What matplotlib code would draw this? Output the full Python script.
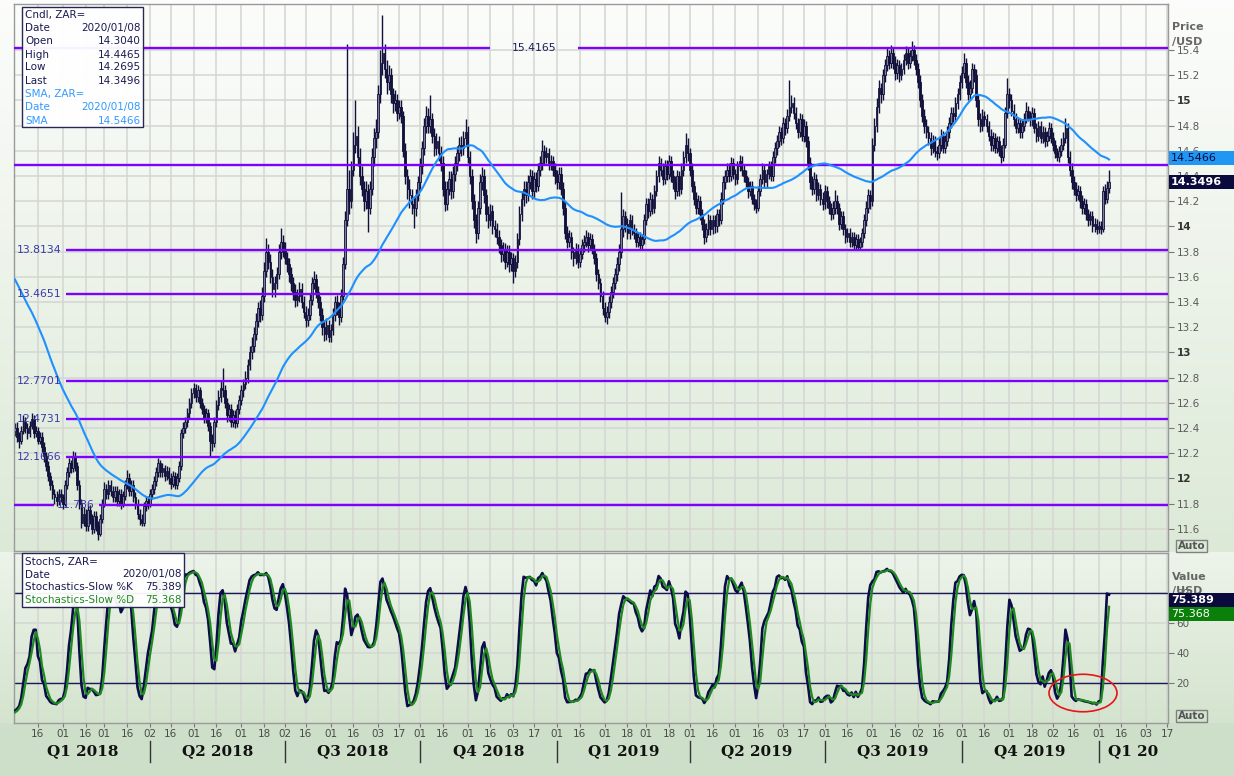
import numpy as np
import pandas as pd
import matplotlib
matplotlib.use("Agg")
import matplotlib.pyplot as plt
import matplotlib.transforms as mtransforms
from matplotlib.patches import Rectangle, Ellipse

W, H, DPI = 1234, 776, 100

# ------------------------------------------------------------------ data
start_date = "2018-01-01"          # first business day shown
first_open = 12.38                 # close of 2017-12-29

# closes of the 49 business days before the chart (feed the 50-day SMA)
prior_close = [13.90, 13.95, 14.05, 14.15,
               14.05, 14.00, 13.90, 14.00, 14.10,
               14.15, 14.20, 14.20, 14.25, 14.20,
               14.35, 14.40, 14.30, 14.10, 13.90,
               14.00, 13.90, 13.80, 13.75, 13.65,
               13.65, 13.65, 13.75, 13.60, 13.50,
               13.55, 13.60, 13.65, 13.65, 13.50,
               13.45, 13.55, 13.50, 13.35, 13.35,
               12.90, 12.85, 12.70, 12.65, 12.60,
               12.55, 12.50, 12.45, 12.40, 12.38]

close = [
    12.40, 12.33, 12.30, 12.38, 12.45, 12.40, 12.36, 12.42, 12.47, 12.36,   # 0
    12.38, 12.30, 12.33, 12.25, 12.18, 12.10, 12.02, 11.95, 11.88, 11.85,   # 10
    11.82, 11.88, 11.85, 11.80, 11.95, 12.05, 12.12, 12.08, 12.18, 12.10,   # 20
    11.95, 11.80, 11.65, 11.72, 11.62, 11.75, 11.68, 11.60, 11.70, 11.62,   # 30
    11.56, 11.68, 11.80, 11.92, 11.88, 11.95, 11.90, 11.85, 11.90, 11.82,   # 40
    11.88, 11.80, 11.86, 11.95, 12.00, 11.90, 11.95, 11.85, 11.80, 11.72,   # 50
    11.68, 11.65, 11.78, 11.82, 11.80, 11.88, 11.92, 11.98, 12.05, 12.12,   # 60
    12.05, 12.08, 12.02, 12.06, 12.00, 11.96, 12.02, 11.95, 12.00, 12.10,   # 70
    12.36, 12.40, 12.45, 12.52, 12.60, 12.68, 12.72, 12.65, 12.70, 12.60,   # 80
    12.55, 12.48, 12.52, 12.42, 12.30, 12.28, 12.45, 12.58, 12.65, 12.72,   # 90
    12.70, 12.60, 12.50, 12.55, 12.45, 12.50, 12.44, 12.55, 12.62, 12.70,   # 100
    12.75, 12.80, 12.90, 13.00, 13.05, 13.15, 13.25, 13.35, 13.30, 13.45,   # 110
    13.65, 13.80, 13.72, 13.60, 13.50, 13.55, 13.62, 13.80, 13.88, 13.82,   # 120
    13.75, 13.70, 13.62, 13.55, 13.48, 13.42, 13.45, 13.50, 13.40, 13.32,   # 130
    13.26, 13.30, 13.42, 13.55, 13.58, 13.48, 13.40, 13.30, 13.20, 13.15,   # 140
    13.22, 13.12, 13.18, 13.30, 13.40, 13.35, 13.28, 13.45, 13.70, 14.05,   # 150
    14.30, 14.20, 14.45, 14.65, 14.72, 14.55, 14.40, 14.30, 14.20, 14.28,   # 160
    14.15, 14.30, 14.55, 14.70, 14.75, 15.05, 15.30, 15.38, 15.25, 15.15,   # 170
    15.20, 15.05, 14.98, 15.00, 14.90, 14.95, 14.88, 14.60, 14.40, 14.30,   # 180
    14.25, 14.18, 14.15, 14.25, 14.35, 14.48, 14.62, 14.80, 14.88, 14.80,   # 190
    14.85, 14.72, 14.62, 14.68, 14.58, 14.50, 14.30, 14.18, 14.30, 14.38,   # 200
    14.28, 14.42, 14.50, 14.58, 14.65, 14.62, 14.70, 14.75, 14.55, 14.40,   # 210
    14.20, 14.05, 13.95, 14.15, 14.35, 14.40, 14.25, 14.10, 14.05, 14.12,   # 220
    14.00, 13.98, 13.92, 13.85, 13.78, 13.82, 13.72, 13.80, 13.70, 13.75,   # 230
    13.65, 13.72, 13.90, 14.10, 14.22, 14.30, 14.25, 14.35, 14.40, 14.28,   # 240
    14.38, 14.32, 14.45, 14.50, 14.60, 14.55, 14.58, 14.50, 14.52, 14.45,   # 250
    14.40, 14.35, 14.42, 14.30, 14.15, 13.95, 13.88, 13.92, 13.80, 13.75,   # 260
    13.82, 13.72, 13.78, 13.85, 13.88, 13.92, 13.85, 13.90, 13.82, 13.75,   # 270
    13.62, 13.55, 13.45, 13.35, 13.28, 13.32, 13.40, 13.48, 13.55, 13.62,   # 280
    13.70, 13.80, 13.98, 14.08, 14.02, 13.95, 14.05, 13.98, 13.95, 13.88,   # 290
    13.92, 13.85, 13.90, 14.05, 14.18, 14.12, 14.22, 14.15, 14.28, 14.40,   # 300
    14.50, 14.45, 14.38, 14.48, 14.42, 14.52, 14.40, 14.35, 14.28, 14.40,   # 310
    14.30, 14.45, 14.55, 14.65, 14.58, 14.45, 14.32, 14.22, 14.15, 14.20,   # 320
    14.10, 14.02, 13.92, 13.98, 14.05, 13.98, 14.05, 14.00, 14.10, 14.05,   # 330
    14.22, 14.35, 14.40, 14.45, 14.40, 14.50, 14.42, 14.38, 14.48, 14.52,   # 340
    14.45, 14.40, 14.35, 14.28, 14.32, 14.22, 14.18, 14.15, 14.28, 14.38,   # 350
    14.45, 14.35, 14.42, 14.48, 14.40, 14.55, 14.62, 14.68, 14.75, 14.70,   # 360
    14.82, 14.78, 14.88, 14.95, 14.98, 14.90, 14.82, 14.75, 14.85, 14.72,   # 370
    14.80, 14.68, 14.50, 14.35, 14.30, 14.38, 14.25, 14.30, 14.22, 14.18,   # 380
    14.28, 14.20, 14.15, 14.10, 14.15, 14.20, 14.15, 14.02, 14.08, 13.98,   # 390
    13.92, 13.95, 13.88, 13.92, 13.85, 13.90, 13.84, 13.88, 13.95, 14.05,   # 400
    14.15, 14.25, 14.20, 14.65, 14.80, 14.95, 15.10, 15.05, 15.20, 15.28,   # 410
    15.35, 15.30, 15.38, 15.30, 15.22, 15.28, 15.20, 15.25, 15.32, 15.38,   # 420
    15.30, 15.35, 15.40, 15.32, 15.25, 15.15, 15.00, 14.88, 14.80, 14.75,   # 430
    14.70, 14.62, 14.68, 14.60, 14.58, 14.65, 14.72, 14.62, 14.68, 14.75,   # 440
    14.82, 14.90, 14.88, 14.98, 15.05, 15.15, 15.22, 15.30, 15.15, 15.05,   # 450
    15.10, 15.25, 15.20, 15.00, 14.85, 14.80, 14.88, 14.85, 14.80, 14.72,   # 460
    14.65, 14.70, 14.62, 14.68, 14.60, 14.55, 14.65, 14.90, 15.05, 15.00,   # 470
    14.92, 14.85, 14.78, 14.82, 14.75, 14.80, 14.85, 14.92, 14.88, 14.85,   # 480
    14.90, 14.78, 14.72, 14.80, 14.70, 14.75, 14.68, 14.72, 14.78, 14.70,   # 490
    14.65, 14.58, 14.55, 14.60, 14.65, 14.70, 14.78, 14.55, 14.45, 14.35,   # 500
    14.30, 14.25, 14.28, 14.20, 14.15, 14.18, 14.10, 14.05, 14.08, 14.00,   # 510
    14.02, 13.98, 14.00, 13.98, 14.28, 14.22, 14.304, 14.3496]               # 520

high = [
    12.44, 12.45, 12.37, 12.42, 12.50, 12.49, 12.44, 12.46, 12.52, 12.50,
    12.42, 12.41, 12.37, 12.37, 12.29, 12.21, 12.14, 12.05, 11.99, 11.92,
    11.90, 11.92, 11.92, 11.88, 11.99, 12.09, 12.16, 12.15, 12.22, 12.21,
    12.13, 11.99, 11.84, 11.77, 11.76, 11.79, 11.79, 11.72, 11.74, 11.74,
    11.66, 11.72, 11.84, 11.97, 11.96, 11.99, 11.99, 11.94, 11.94, 11.94,
    11.92, 11.92, 11.90, 11.99, 12.07, 12.04, 11.99, 11.99, 11.89, 11.84,
    11.76, 11.72, 11.81, 11.86, 11.86, 11.92, 11.96, 12.02, 12.09, 12.16,
    12.15, 12.12, 12.11, 12.10, 12.09, 12.04, 12.06, 12.05, 12.04, 12.14,
    12.39, 12.45, 12.49, 12.56, 12.64, 12.72, 12.76, 12.75, 12.74, 12.73,
    12.64, 12.58, 12.56, 12.55, 12.45, 12.35, 12.49, 12.62, 12.70, 12.78,
    12.88, 12.74, 12.64, 12.59, 12.59, 12.54, 12.54, 12.59, 12.66, 12.74,
    12.79, 12.85, 12.95, 13.05, 13.12, 13.20, 13.31, 13.40, 13.42, 13.52,
    13.72, 13.91, 13.86, 13.78, 13.66, 13.61, 13.68, 13.86, 13.99, 13.93,
    13.88, 13.80, 13.75, 13.68, 13.60, 13.54, 13.50, 13.56, 13.55, 13.45,
    13.37, 13.35, 13.47, 13.60, 13.65, 13.62, 13.53, 13.45, 13.35, 13.25,
    13.27, 13.26, 13.23, 13.35, 13.45, 13.46, 13.40, 13.50, 13.76, 14.12,
    15.45, 14.45, 14.52, 14.75, 15.00, 14.80, 14.62, 14.48, 14.36, 14.36,
    14.34, 14.36, 14.62, 14.78, 14.85, 15.12, 15.40, 15.68, 15.45, 15.32,
    15.28, 15.26, 15.10, 15.08, 15.05, 15.00, 15.00, 14.92, 14.66, 14.46,
    14.38, 14.30, 14.24, 14.30, 14.40, 14.54, 14.68, 14.86, 14.96, 14.94,
    15.04, 14.90, 14.78, 14.74, 14.72, 14.64, 14.56, 14.36, 14.36, 14.44,
    14.44, 14.48, 14.56, 14.64, 14.71, 14.72, 14.76, 14.85, 14.80, 14.60,
    14.46, 14.26, 14.10, 14.20, 14.42, 14.47, 14.46, 14.30, 14.16, 14.18,
    14.17, 14.05, 14.03, 13.97, 13.90, 13.88, 13.87, 13.85, 13.85, 13.80,
    13.79, 13.77, 13.95, 14.16, 14.28, 14.36, 14.36, 14.41, 14.46, 14.45,
    14.43, 14.43, 14.50, 14.56, 14.69, 14.65, 14.63, 14.62, 14.57, 14.56,
    14.50, 14.45, 14.47, 14.47, 14.35, 14.20, 14.00, 13.97, 13.96, 13.84,
    13.87, 13.86, 13.83, 13.90, 13.93, 13.97, 13.96, 13.95, 13.94, 13.86,
    13.79, 13.66, 13.59, 13.49, 13.40, 13.37, 13.45, 13.53, 13.60, 13.67,
    13.76, 13.86, 14.27, 14.14, 14.12, 14.07, 14.10, 14.09, 14.02, 13.99,
    13.96, 13.96, 13.94, 14.10, 14.23, 14.23, 14.27, 14.26, 14.33, 14.45,
    14.56, 14.54, 14.50, 14.53, 14.53, 14.57, 14.56, 14.45, 14.40, 14.45,
    14.44, 14.50, 14.60, 14.74, 14.70, 14.62, 14.50, 14.36, 14.27, 14.25,
    14.24, 14.14, 14.06, 14.03, 14.10, 14.09, 14.09, 14.09, 14.14, 14.14,
    14.27, 14.40, 14.45, 14.50, 14.50, 14.55, 14.54, 14.46, 14.52, 14.57,
    14.56, 14.49, 14.45, 14.39, 14.36, 14.36, 14.26, 14.22, 14.32, 14.42,
    14.50, 14.49, 14.46, 14.52, 14.52, 14.60, 14.67, 14.73, 14.80, 14.79,
    14.87, 14.86, 14.93, 15.16, 15.04, 15.03, 14.95, 14.86, 14.90, 14.89,
    14.85, 14.84, 14.72, 14.55, 14.40, 14.43, 14.42, 14.35, 14.34, 14.27,
    14.33, 14.32, 14.24, 14.19, 14.20, 14.29, 14.25, 14.19, 14.12, 14.12,
    14.02, 13.99, 13.99, 13.96, 13.96, 13.94, 13.94, 13.92, 13.99, 14.10,
    14.20, 14.30, 14.29, 14.70, 14.86, 15.02, 15.16, 15.14, 15.25, 15.33,
    15.42, 15.40, 15.44, 15.42, 15.35, 15.33, 15.32, 15.30, 15.37, 15.43,
    15.42, 15.40, 15.47, 15.44, 15.37, 15.30, 15.20, 15.05, 14.93, 14.85,
    14.80, 14.75, 14.73, 14.72, 14.64, 14.70, 14.77, 14.76, 14.73, 14.80,
    14.87, 14.95, 14.95, 15.03, 15.10, 15.20, 15.27, 15.38, 15.34, 15.20,
    15.16, 15.30, 15.29, 15.25, 15.05, 14.90, 14.93, 14.92, 14.89, 14.84,
    14.77, 14.75, 14.74, 14.72, 14.72, 14.65, 14.70, 14.95, 15.18, 15.10,
    15.05, 14.97, 14.90, 14.87, 14.86, 14.85, 14.90, 14.99, 14.96, 14.92,
    14.95, 14.94, 14.82, 14.84, 14.84, 14.80, 14.79, 14.76, 14.83, 14.82,
    14.75, 14.69, 14.62, 14.64, 14.70, 14.75, 14.86, 14.82, 14.60, 14.50,
    14.40, 14.35, 14.33, 14.32, 14.25, 14.23, 14.22, 14.14, 14.12, 14.12,
    14.07, 14.06, 14.04, 14.04, 14.32, 14.34, 14.36, 14.4465]

low = [
    12.34, 12.29, 12.24, 12.27, 12.35, 12.36, 12.31, 12.33, 12.39, 12.32,
    12.33, 12.27, 12.27, 12.21, 12.13, 12.06, 11.98, 11.91, 11.84, 11.80,
    11.78, 11.79, 11.81, 11.76, 11.78, 11.92, 12.01, 12.04, 12.05, 12.06,
    11.91, 11.76, 11.61, 11.62, 11.58, 11.58, 11.64, 11.56, 11.57, 11.58,
    11.51, 11.54, 11.65, 11.77, 11.84, 11.84, 11.86, 11.81, 11.81, 11.78,
    11.78, 11.76, 11.77, 11.83, 11.92, 11.86, 11.86, 11.81, 11.76, 11.68,
    11.63, 11.62, 11.62, 11.74, 11.76, 11.77, 11.84, 11.88, 11.94, 12.01,
    12.01, 12.01, 11.98, 11.99, 11.96, 11.92, 11.93, 11.92, 11.92, 11.97,
    12.07, 12.32, 12.36, 12.41, 12.48, 12.56, 12.64, 12.61, 12.61, 12.56,
    12.51, 12.44, 12.44, 12.38, 12.17, 12.22, 12.25, 12.41, 12.54, 12.61,
    12.65, 12.56, 12.45, 12.46, 12.41, 12.41, 12.40, 12.41, 12.51, 12.58,
    12.65, 12.71, 12.76, 12.86, 12.95, 13.00, 13.10, 13.20, 13.24, 13.26,
    13.40, 13.60, 13.66, 13.55, 13.44, 13.44, 13.50, 13.58, 13.74, 13.76,
    13.70, 13.64, 13.56, 13.49, 13.42, 13.36, 13.37, 13.40, 13.35, 13.27,
    13.20, 13.21, 13.26, 13.38, 13.50, 13.43, 13.35, 13.25, 13.14, 13.09,
    13.10, 13.08, 13.08, 13.14, 13.25, 13.30, 13.22, 13.24, 13.42, 13.66,
    14.00, 14.10, 14.15, 14.40, 14.58, 14.48, 14.33, 14.24, 14.12, 14.14,
    13.96, 14.10, 14.25, 14.48, 14.62, 14.70, 14.98, 15.20, 15.18, 15.05,
    15.08, 14.98, 14.90, 14.92, 14.84, 14.85, 14.82, 14.55, 14.34, 14.22,
    14.15, 14.10, 13.99, 14.08, 14.20, 14.30, 14.42, 14.57, 14.74, 14.74,
    14.74, 14.66, 14.56, 14.57, 14.52, 14.44, 14.24, 14.12, 14.13, 14.25,
    14.22, 14.23, 14.36, 14.44, 14.52, 14.56, 14.57, 14.64, 14.50, 14.34,
    14.14, 13.99, 13.87, 13.90, 14.10, 14.29, 14.19, 14.04, 13.99, 14.00,
    13.94, 13.92, 13.86, 13.79, 13.72, 13.73, 13.66, 13.68, 13.64, 13.65,
    13.55, 13.60, 13.67, 13.85, 14.04, 14.16, 14.19, 14.20, 14.30, 14.22,
    14.23, 14.27, 14.28, 14.40, 14.45, 14.49, 14.50, 14.45, 14.45, 14.40,
    14.34, 14.30, 14.30, 14.25, 14.09, 13.90, 13.83, 13.84, 13.74, 13.69,
    13.70, 13.67, 13.68, 13.74, 13.80, 13.84, 13.80, 13.81, 13.78, 13.70,
    13.57, 13.50, 13.40, 13.30, 13.24, 13.23, 13.27, 13.35, 13.43, 13.50,
    13.57, 13.65, 13.75, 13.92, 13.96, 13.90, 13.90, 13.93, 13.90, 13.84,
    13.84, 13.81, 13.82, 13.86, 14.01, 14.07, 14.08, 14.10, 14.11, 14.24,
    14.35, 14.40, 14.33, 14.34, 14.37, 14.38, 14.35, 14.30, 14.22, 14.24,
    14.24, 14.26, 14.40, 14.50, 14.52, 14.40, 14.27, 14.17, 14.10, 14.10,
    14.05, 13.97, 13.86, 13.88, 13.93, 13.93, 13.94, 13.95, 13.96, 14.00,
    14.02, 14.18, 14.30, 14.35, 14.35, 14.36, 14.38, 14.33, 14.34, 14.44,
    14.40, 14.35, 14.31, 14.23, 14.24, 14.18, 14.13, 14.11, 14.12, 14.24,
    14.34, 14.31, 14.31, 14.38, 14.36, 14.36, 14.50, 14.57, 14.63, 14.65,
    14.66, 14.73, 14.74, 14.84, 14.90, 14.85, 14.77, 14.70, 14.71, 14.68,
    14.67, 14.63, 14.45, 14.30, 14.25, 14.26, 14.20, 14.21, 14.17, 14.13,
    14.14, 14.15, 14.10, 14.05, 14.06, 14.10, 14.10, 13.97, 13.98, 13.93,
    13.87, 13.88, 13.84, 13.84, 13.81, 13.81, 13.81, 13.81, 13.84, 13.91,
    14.00, 14.11, 14.14, 14.16, 14.60, 14.75, 14.90, 14.98, 15.00, 15.15,
    15.23, 15.25, 15.26, 15.25, 15.16, 15.17, 15.15, 15.16, 15.21, 15.28,
    15.25, 15.26, 15.31, 15.28, 15.20, 15.10, 14.95, 14.83, 14.74, 14.70,
    14.65, 14.57, 14.58, 14.55, 14.53, 14.54, 14.60, 14.58, 14.58, 14.64,
    14.70, 14.78, 14.83, 14.84, 14.93, 15.00, 15.10, 15.18, 15.10, 15.00,
    15.00, 15.06, 15.15, 14.95, 14.80, 14.75, 14.76, 14.80, 14.75, 14.68,
    14.60, 14.60, 14.58, 14.58, 14.56, 14.50, 14.52, 14.62, 14.86, 14.94,
    14.88, 14.80, 14.74, 14.74, 14.70, 14.70, 14.76, 14.82, 14.84, 14.80,
    14.80, 14.74, 14.67, 14.68, 14.66, 14.66, 14.63, 14.64, 14.68, 14.66,
    14.60, 14.54, 14.52, 14.51, 14.56, 14.61, 14.66, 14.50, 14.40, 14.30,
    14.25, 14.20, 14.21, 14.15, 14.10, 14.10, 14.05, 14.00, 14.01, 13.96,
    13.96, 13.94, 13.95, 13.94, 13.96, 14.18, 14.19, 14.2695]

level_values = [15.4165, 14.49, 13.8134, 13.4651, 12.7701, 12.4731, 12.1666, 11.786]
level_texts = ["15.4165", "", "13.8134", "13.4651", "12.7701", "12.4731", "12.1666", "11.786"]
price_ticks = [11.6, 11.8, 12.0, 12.2, 12.4, 12.6, 12.8, 13.0, 13.2, 13.4,
               13.6, 13.8, 14.0, 14.2, 14.4, 14.6, 14.8, 15.0, 15.2, 15.4]
stoch_ticks = [20, 40, 60, 80]
stoch_bands = [20, 80]
quarter_labels = ["Q1 2018", "Q2 2018", "Q3 2018", "Q4 2018", "Q1 2019",
                  "Q2 2019", "Q3 2019", "Q4 2019", "Q1 20"]
info_rows = [("Cndl, ZAR=", ""), ("Date", "2020/01/08"), ("Open", "14.3040"),
             ("High", "14.4465"), ("Low", "14.2695"), ("Last", "14.3496"),
             ("SMA, ZAR=", ""), ("Date", "2020/01/08"), ("SMA", "14.5466")]
stoch_rows = [("StochS, ZAR=", ""), ("Date", "2020/01/08"),
              ("Stochastics-Slow %K", "75.389"), ("Stochastics-Slow %D", "75.368")]
last_price, last_sma = 14.3496, 14.5466
last_k, last_d = 75.389, 75.368
sma_period = 50
stoch_n, stoch_slow, stoch_dn = 14, 3, 3

assert len(close) == len(high) == len(low) == 528, (len(close), len(high), len(low))

# ------------------------------------------------------------------ derived
c = np.array(close)
o = np.r_[first_open, c[:-1]]
hi = np.maximum(np.array(high), np.maximum(o, c))
lo = np.minimum(np.array(low), np.minimum(o, c))
n = len(c)
xi = np.arange(n)
npr = len(prior_close)

allc = pd.Series(np.r_[prior_close, c])
sma = allc.rolling(sma_period).mean().values[npr:]
allh = pd.Series(np.r_[prior_close, hi])
alll = pd.Series(np.r_[prior_close, lo])
hh = allh.rolling(stoch_n, min_periods=1).max()
ll = alll.rolling(stoch_n, min_periods=1).min()
fastk = 100 * (allc - ll) / (hh - ll)
slowk = fastk.rolling(stoch_slow).mean()
slowd = slowk.rolling(stoch_dn).mean()
k_line = slowk.values[npr:]
d_line = slowd.values[npr:]

dates = pd.bdate_range(start_date, periods=600)

# ------------------------------------------------------------------ layout
X0, X1 = 14, 1168
PY0, PY1 = 4, 551
SY0, SY1 = 553, 723
XL = (-0.5, 555.4)
PL = (11.4245, 15.7657)
SL = (-6.5, 106.9)

def fax(x0, y0, x1, y1):
    return [x0 / W, 1 - y1 / H, (x1 - x0) / W, (y1 - y0) / H]

def i2px(i):
    return X0 + (i - XL[0]) / (XL[1] - XL[0]) * (X1 - X0)

def px2i(px):
    return XL[0] + (px - X0) / (X1 - X0) * (XL[1] - XL[0])

def bgcol(y):
    if y < 552:
        t = np.clip((y - PY0) / (PY1 - PY0), 0, 1)
        a, b = np.array([0.988, 0.992, 0.985]), np.array([0.865, 0.915, 0.845])
    elif y < SY1:
        t = (y - 552) / (SY1 - 552)
        a, b = np.array([0.930, 0.955, 0.920]), np.array([0.830, 0.892, 0.805])
    else:
        t = 0
        a = b = np.array([0.805, 0.878, 0.785])
    return a + (b - a) * t

fig = plt.figure(figsize=(W / DPI, H / DPI), dpi=DPI)
bg = fig.add_axes([0, 0, 1, 1], zorder=0)
bg.axis("off")
rows = np.array([bgcol(y) for y in range(H)])
img = np.repeat(rows[:, None, :], W, axis=1)
bg.imshow(img, extent=(0, W, H, 0), aspect="auto", interpolation="bilinear")
bg.set_xlim(0, W); bg.set_ylim(H, 0)

ax_p = fig.add_axes(fax(X0, PY0, X1, PY1), zorder=1)
ax_s = fig.add_axes(fax(X0, SY0, X1, SY1), zorder=1)
ov = fig.add_axes([0, 0, 1, 1], zorder=5)
ov.axis("off"); ov.set_xlim(0, W); ov.set_ylim(H, 0); ov.patch.set_alpha(0)

for ax, yl in ((ax_p, PL), (ax_s, SL)):
    ax.set_facecolor("none")
    ax.set_xlim(*XL); ax.set_ylim(*yl)
    for s in ax.spines.values():
        s.set_color("#9a9a9a"); s.set_linewidth(1.0)

# x ticks: first business day of each month and first on/after the 16th
tick_idx, tick_lab = [], []
for j in range(1, len(dates)):
    if j > XL[1]:
        break
    d, p = dates[j], dates[j - 1]
    if d.month != p.month or (d.day >= 16 and p.day < 16):
        tick_idx.append(j); tick_lab.append(f"{d.day:02d}")
q_idx = [0] + [j for j in range(1, int(XL[1]) + 1)
               if dates[j].month != dates[j - 1].month and dates[j].month in (1, 4, 7, 10)]

grid_kw = dict(color="#d4d6d2", lw=1.1)
for ax in (ax_p, ax_s):
    ax.set_xticks(tick_idx)
    ax.grid(True, **grid_kw)
    ax.set_axisbelow(True)
ax_p.tick_params(axis="x", length=0, labelbottom=False)
ax_s.set_xticklabels(tick_lab)
ax_s.tick_params(axis="x", length=3, width=0.8, color="#777777", pad=1.2,
                 labelsize=7.5, labelcolor="#4a4a4a")

ax_p.yaxis.tick_right()
ax_p.set_yticks(price_ticks)
ax_p.set_yticklabels([f"{v:g}" for v in price_ticks])
ax_p.tick_params(axis="y", length=4, width=0.8, color="#777777", pad=2,
                 labelsize=7.5, labelcolor="#5a5a5a")
for lab, v in zip(ax_p.get_yticklabels(), price_ticks):
    if abs(v - round(v)) < 1e-9:
        lab.set_fontweight("bold"); lab.set_color("#333333")
ax_s.yaxis.tick_right()
ax_s.set_yticks(stoch_ticks)
ax_s.set_yticklabels([str(v) for v in stoch_ticks])
ax_s.tick_params(axis="y", length=4, width=0.8, color="#777777", pad=2,
                 labelsize=7.5, labelcolor="#5a5a5a")

# ------------------------------------------------------------------ price panel
navy = "#10103a"
up = c >= o
ax_p.vlines(xi, lo, hi, color=navy, lw=1.0, zorder=2)
ax_p.bar(xi[up], (c - o)[up], bottom=o[up], width=0.8, color="#7c7c9c",
         edgecolor=navy, linewidth=0.6, zorder=2)
ax_p.bar(xi[~up], (o - c)[~up], bottom=c[~up], width=0.8, color=navy,
         edgecolor=navy, linewidth=0.6, zorder=2)

purple = "#8000ff"
seg_px = {"15.4165": [(X0, 490), (578, X1)], "11.786": [(X0, 54), (99, X1)]}
for v, t in zip(level_values, level_texts):
    if t in seg_px:
        segs = seg_px[t]
    elif t:
        segs = [(66, X1)]
    else:
        segs = [(X0, X1)]
    for a, b in segs:
        ax_p.hlines(v, px2i(a), px2i(b), color=purple, lw=1.7, zorder=3)

ax_p.plot(xi, sma, color="#1e90ff", lw=1.5, zorder=4)

bl_p = mtransforms.blended_transform_factory(ov.transData, ax_p.transData)
for v, t in zip(level_values, level_texts):
    if not t:
        continue
    if t == "15.4165":
        ov_x, ha, col = 534, "center", "#1e1e5a"
    elif t == "11.786":
        ov_x, ha, col = 76, "center", "#3a3aa8"
    else:
        ov_x, ha, col = 17, "left", "#3a3aa8"
    ax_p.text(ov_x, v, t, transform=bl_p, ha=ha, va="center", fontsize=7.8,
              color=col, zorder=6)

# ------------------------------------------------------------------ stochastic panel
for v in stoch_bands:
    ax_s.axhline(v, color="#1a1a5a", lw=1.0, zorder=2)
ax_s.plot(xi, k_line, color="#0c0c48", lw=1.9, zorder=3)
ax_s.plot(xi, d_line, color="#1f8a1f", lw=1.6, zorder=4)
ax_s.add_patch(Ellipse((px2i(1083), 13.5), 68 / 2.0759, 25, fill=False,
                       ec="#e8141c", lw=1.2, zorder=6))

# ------------------------------------------------------------------ overlays
def ypx(ax, v):
    return H - ax.transData.transform((0, v))[1]

def tag(ax, v, text, fc, tc, bold=False, dy=0):
    y = ypx(ax, v) + dy
    ov.add_patch(Rectangle((X1 + 1, y - 7), W - X1 - 1, 14, fc=fc, ec="none", zorder=7))
    ov.text(X1 + 3, y, text, ha="left", va="center", fontsize=8, color=tc,
            fontweight="bold" if bold else "normal", zorder=8)

tag(ax_p, last_sma, f"{last_sma:.4f}", "#2196f3", "#0a0a40")
tag(ax_p, last_price, f"{last_price:.4f}", "#0a0a3c", "white", bold=True)
tag(ax_s, last_k, f"{last_k:.3f}", "#0a0a3c", "white", bold=True)
tag(ax_s, last_k, f"{last_d:.3f}", "#0a800a", "white", dy=14)

def info_box(x0, y0, x1, y1, rows_, ys, colors):
    ov.add_patch(Rectangle((x0, y0), x1 - x0, y1 - y0, fc="white", ec="#1c1c4c",
                           lw=1.0, alpha=0.95, zorder=7))
    for (l, r), y, col in zip(rows_, ys, colors):
        ov.text(x0 + 3, y, l, ha="left", va="center", fontsize=7.5, color=col, zorder=8)
        if r:
            ov.text(x1 - 2, y, r, ha="right", va="center", fontsize=7.5, color=col, zorder=8)

info_box(22, 7, 143, 127, info_rows, [15, 28, 41.5, 54.5, 67.5, 80.5, 94, 107, 120.5],
         ["#1a1a50"] * 6 + ["#3399ff"] * 3)
info_box(22, 553, 184, 607, stoch_rows, [562, 574.5, 587, 600],
         ["#1a1a50"] * 3 + ["#1f8a1f"])

for txt, y in (("Price", 27), ("/USD", 42), ("Value", 577), ("/USD", 591)):
    ov.text(1172, y, txt, ha="left", va="center", fontsize=8, fontweight="bold",
            color="#666666", zorder=6)
for y in (540, 710):
    ov.add_patch(Rectangle((1176, y), 31, 12, fc="none", ec="#808080", lw=1.0, zorder=7))
    ov.text(1191.5, y + 6, "Auto", ha="center", va="center", fontsize=7.5,
            fontweight="bold", color="#555555", zorder=8)

# quarter labels and separators
q_px = [i2px(j) for j in q_idx] + [X1]
for k_, lab in enumerate(quarter_labels):
    a, b = q_px[k_], q_px[k_ + 1]
    ov.text((a + b) / 2, 751, lab, ha="center", va="center", fontsize=11,
            fontweight="bold", family="DejaVu Serif", color="#111111", zorder=6)
for a in q_px[1:-1]:
    ov.plot([a, a], [741, 762], color="#333333", lw=1.0, zorder=6)

fig.savefig("out.png", dpi=DPI)
